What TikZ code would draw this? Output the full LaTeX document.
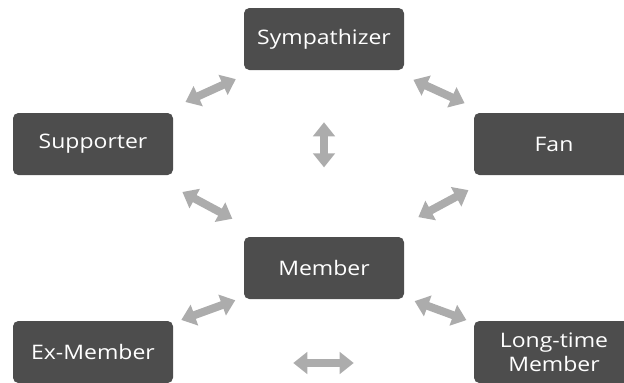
\documentclass[tikz,border=0pt]{standalone}
\usepackage{fontspec}
\setmainfont{Open Sans}[FakeStretch=1.15]
\usetikzlibrary{arrows.meta}
\definecolor{boxgray}{RGB}{77,77,77}
\definecolor{arrowgray}{RGB}{172,172,172}

\begin{document}
\begin{tikzpicture}[x=0.75pt, y=-0.75pt,
  stage/.style = {fill=boxgray, rounded corners=4pt, inner sep=0pt,
    minimum width=120pt, minimum height=46.5pt, align=center,
    text=white, font=\fontsize{15}{18}\selectfont},
  link/.style = {draw=arrowgray, line width=6pt,
    {Triangle[width=16pt,length=10.5pt]}-{Triangle[width=16pt,length=10.5pt]}}]
  \clip (0,0) rectangle (624,382);
  \node [stage] (symp) at (324,39)  {Sympathizer};
  \node [stage] (supp) at (93,144)  {Supporter};
  \node [stage] (fan)  at (554,144) {Fan};
  \node [stage] (memb) at (324,268) {Member};
  \node [stage] (exm)  at (93,352)  {Ex-Member};
  \node [stage] (ltm)  at (554,352) {Long-time\\Member};
  \draw [link, shorten <=16pt, shorten >=19.5pt] (symp) -- (supp);
  \draw [link, shorten <=17.25pt, shorten >=17.25pt] (symp) -- (fan);
  \draw [link, shorten <=39pt, shorten >=52pt] (symp) -- (memb);
  \draw [link, shorten <=26.5pt, shorten >=28.5pt] (supp) -- (memb);
  \draw [link, shorten <=23.5pt, shorten >=31pt] (fan) -- (memb);
  \draw [link, shorten <=6.75pt, shorten >=6.4pt] (memb) -- (exm);
  \draw [link, shorten <=8.25pt, shorten >=5.85pt] (memb) -- (ltm);
  \draw [link, shorten <=90pt, shorten >=90pt] ([yshift=-8.25pt]exm.east) -- ([yshift=-8.25pt]ltm.west);
\end{tikzpicture}
\end{document}
